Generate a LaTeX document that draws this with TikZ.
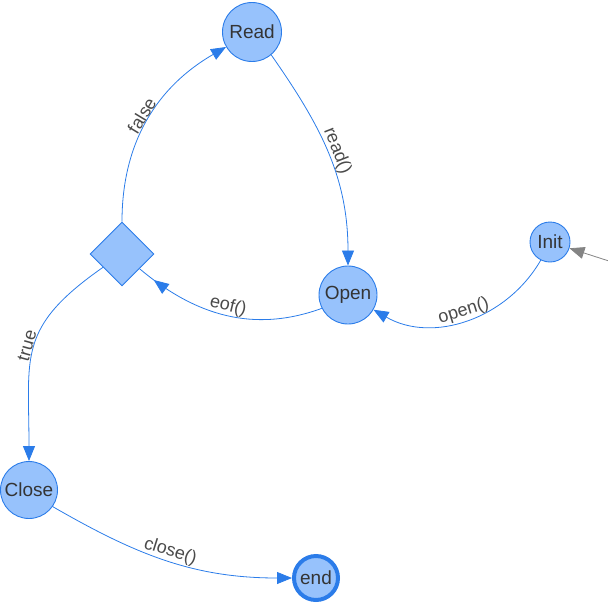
\documentclass[tikz,border=0pt]{standalone}
\usepackage{fontspec}
\setmainfont{Liberation Sans}
\usepackage{xcolor}
\usepackage{tikz}
\usetikzlibrary{shapes.geometric,arrows.meta,decorations.markings}

\definecolor{stfill}{HTML}{97C2FC}
\definecolor{stline}{HTML}{2B7CE9}
\definecolor{sttext}{HTML}{343434}
\definecolor{lbtext}{HTML}{4A4A4A}
\definecolor{startline}{HTML}{848484}

\begin{document}
\begin{tikzpicture}[x=1pt,y=1pt,
    state/.style={circle,draw=stline,fill=stfill,line width=0.9pt,inner sep=0pt,
      text=sttext,font=\fontsize{19}{22}\selectfont},
    choice/.style={diamond,draw=stline,fill=stfill,line width=0.9pt,inner sep=0pt,
      minimum width=64pt,minimum height=64pt},
    trans/.style={draw=stline,line width=0.8pt,-{Triangle[length=15pt,width=12pt]}},
    lbl/.style={sloped,above,inner sep=0.5pt,text=lbtext,font=\fontsize{18}{20}\selectfont}]
                    \useasboundingbox (0,0) rectangle (608,-603);

                    % states
                    \node[state,minimum size=59pt] (rd) at (252,-32) {Read};
                    \node[state,minimum size=58pt] (op) at (348,-295) {Open};
                    \node[state,minimum size=40pt] (ini) at (550,-242) {Init};
                    \node[choice] (dc) at (122,-254) {};
                    \node[state,minimum size=57pt] (cl) at (29,-490) {Close};
                    \node[state,minimum size=44pt,line width=4pt] (en) at (316,-578) {end};

                    \coordinate (src) at (612,-262);

                    % transitions
                    \draw[draw=startline,line width=0.8pt,-{Triangle[length=15pt,width=12pt]}] (src) -- (ini);
                    \draw[trans] (ini.-117) to[out=-120,in=-30] node[lbl] {open()} (op);
                    \draw[stline,line width=0.8pt,postaction={decorate},
                      decoration={markings,mark=at position -18pt with {\arrow{Triangle[length=15pt,width=12pt]}}}]
                      (op.-153) to[out=-160,in=-40] node[lbl] {eof()} (dc);
                    \draw[trans] (dc.north) to[out=90,in=-150] node[lbl] {false} (rd);
                    \draw[trans] (rd.-50) to[out=-55,in=90] node[lbl] {read()} (op);
                    \draw[trans] (dc.-145) to[out=-145,in=90,looseness=1.3] node[lbl] {true} (cl);
                    \draw[trans] (cl.-35) to[out=-30,in=180] node[lbl] {close()} (en);
\end{tikzpicture}
\end{document}
